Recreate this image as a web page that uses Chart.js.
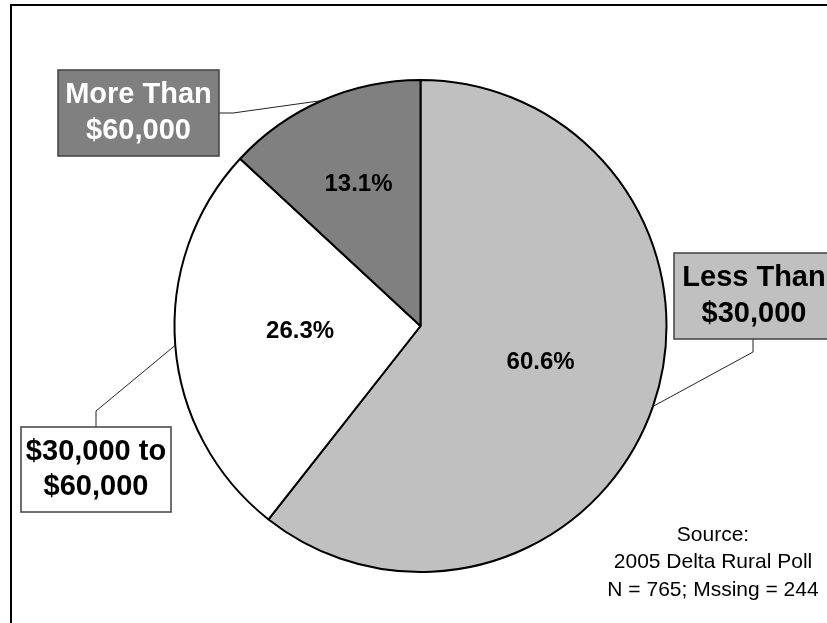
<!DOCTYPE html>
<html>
<head>
<meta charset="utf-8">
<script src="https://cdn.jsdelivr.net/npm/chart.js@4.4.1/dist/chart.umd.min.js"></script>
<style>
  html, body { margin: 0; padding: 0; background: #fff; }
  #wrap { position: relative; width: 827px; height: 623px; }
</style>
</head>
<body>
<div id="wrap"><canvas id="incomePie" width="827" height="623"></canvas></div>
<script>
// household income groups and their shares (%)
const incomeGroups = [
  ["Less Than", "$30,000"],
  ["$30,000 to", "$60,000"],
  ["More Than", "$60,000"]
];
const incomeShares = [60.6, 26.3, 13.1];
const sourceLines = ["Source:", "2005 Delta Rural Poll", "N = 765; Mssing = 244"];

const sliceColors = ["#C0C0C0", "#FFFFFF", "#808080"];

// callout boxes: centre, size, fill, text colour, and where the leader elbow sits
const callouts = [
  { cx: 754, cy: 296, w: 160, h: 86, fill: "#C0C0C0", text: "#000", elbow: [[753, 339], [753, 352]] },
  { cx: 96, cy: 469.5, w: 150, h: 85, fill: "#FFFFFF", text: "#000", elbow: [[96, 427], [96, 411]] },
  { cx: 138.5, cy: 113, w: 161, h: 86, fill: "#808080", text: "#FFF", elbow: [[219, 113], [233, 113]] }
];
// how far out (fraction of radius) the percentages sit, plus small angle nudges
const pctRadius = [0.51, 0.49, 0.63];
const pctNudge = [-0.04, 0.035, 0.0];

const FONT = '"Liberation Sans", Arial, sans-serif';

const framePlugin = {
  id: "frame",
  beforeDraw(chart) {
    const ctx = chart.ctx;
    ctx.save();
    ctx.strokeStyle = "#000";
    ctx.lineWidth = 2;
    ctx.beginPath();
    ctx.moveTo(11, 623);
    ctx.lineTo(11, 5);
    ctx.lineTo(827, 5);
    ctx.stroke();
    ctx.restore();
  }
};

const labelPlugin = {
  id: "pieLabels",
  afterDatasetsDraw(chart) {
    const ctx = chart.ctx;
    const arcs = chart.getDatasetMeta(0).data;
    ctx.save();
    arcs.forEach((arc, i) => {
      const p = arc.getProps(["x", "y", "startAngle", "endAngle", "outerRadius"], true);
      const mid = (p.startAngle + p.endAngle) / 2;

      // leader line from the box to the rim
      const c = callouts[i];
      const rimX = p.x + Math.cos(mid) * p.outerRadius;
      const rimY = p.y + Math.sin(mid) * p.outerRadius;
      ctx.strokeStyle = "#222";
      ctx.lineWidth = 1;
      ctx.beginPath();
      ctx.moveTo(c.elbow[0][0], c.elbow[0][1]);
      ctx.lineTo(c.elbow[1][0], c.elbow[1][1]);
      ctx.lineTo(rimX, rimY);
      ctx.stroke();

      // box
      ctx.fillStyle = c.fill;
      ctx.fillRect(c.cx - c.w / 2, c.cy - c.h / 2, c.w, c.h);
      ctx.strokeStyle = "#404040";
      ctx.lineWidth = 1.5;
      ctx.strokeRect(c.cx - c.w / 2, c.cy - c.h / 2, c.w, c.h);

      ctx.fillStyle = c.text;
      ctx.font = "bold 29px " + FONT;
      ctx.textAlign = "center";
      ctx.textBaseline = "middle";
      const lines = incomeGroups[i];
      lines.forEach((t, k) => {
        ctx.fillText(t, c.cx, c.cy + (k - (lines.length - 1) / 2) * 35.5);
      });

      // percentage inside the slice
      const a = mid + pctNudge[i];
      const r = p.outerRadius * pctRadius[i];
      ctx.fillStyle = "#000";
      ctx.font = "bold 24px " + FONT;
      ctx.fillText(incomeShares[i].toFixed(1) + "%", p.x + Math.cos(a) * r, p.y + Math.sin(a) * r);
    });

    // source note
    ctx.font = "21px " + FONT;
    ctx.fillStyle = "#000";
    sourceLines.forEach((t, k) => ctx.fillText(t, 713, 535 + k * 27.5));
    ctx.restore();
  }
};

new Chart(document.getElementById("incomePie").getContext("2d"), {
  type: "pie",
  data: {
    labels: incomeGroups.map(g => g.join(" ")),
    datasets: [{
      data: incomeShares,
      backgroundColor: sliceColors,
      borderColor: "#000",
      borderWidth: 2
    }]
  },
  options: {
    responsive: false,
    animation: false,
    radius: 246,
    layout: { padding: { left: 24, right: 10, top: 40, bottom: 11 } },
    plugins: {
      legend: { display: false },
      tooltip: { enabled: false }
    }
  },
  plugins: [framePlugin, labelPlugin]
});
</script>
</body>
</html>
